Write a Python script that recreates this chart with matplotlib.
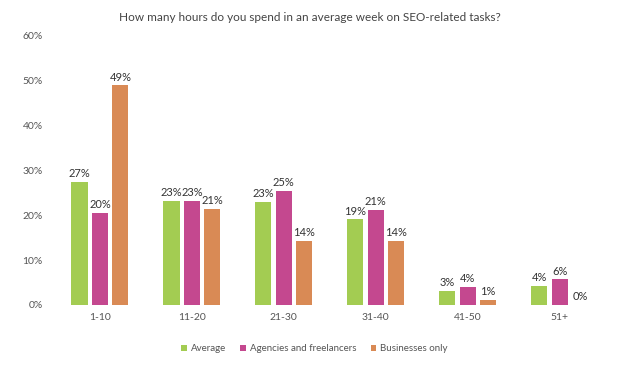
import matplotlib
matplotlib.use("Agg")
import matplotlib.pyplot as plt
import numpy as np

categories = ["1-10", "11-20", "21-30", "31-40", "41-50", "51+"]
series_names = ["Average", "Agencies and freelancers", "Businesses only"]
average = [27.5, 23.2, 23.0, 19.1, 3.1, 4.2]
agencies = [20.5, 23.3, 25.4, 21.2, 4.1, 5.7]
businesses = [49.0, 21.4, 14.3, 14.3, 1.1, 0.0]
average_labels = ["27%", "23%", "23%", "19%", "3%", "4%"]
agencies_labels = ["20%", "23%", "25%", "21%", "4%", "6%"]
businesses_labels = ["49%", "21%", "14%", "14%", "1%", "0%"]
yticks = [0, 10, 20, 30, 40, 50, 60]
ytick_labels = ["0%", "10%", "20%", "30%", "40%", "50%", "60%"]
title = "How many hours do you spend in an average week on SEO-related tasks?"

colors = ["#a3cc52", "#c4488f", "#d98a55"]
font = ["Lato", "DejaVu Sans"]
plt.rcParams["font.family"] = font

fig = plt.figure(figsize=(6.2, 3.67), dpi=100)
ax = fig.add_axes([0.087, 0.169, 0.89, 0.733])

x = np.arange(len(categories))
width = 0.175
offsets = [-0.222, 0.0, 0.222]
data = [average, agencies, businesses]
labels = [average_labels, agencies_labels, businesses_labels]
for vals, labs, off, c, name in zip(data, labels, offsets, colors, series_names):
    bars = ax.bar(x + off, vals, width, color=c, label=name)
    for b, v, l in zip(bars, vals, labs):
        ax.text(b.get_x() + b.get_width() / 2, v + 0.6, l, ha="center", va="bottom",
                fontsize=8, color="#333333")

ax.set_xlim(-0.5, len(categories) - 0.5)
ax.set_ylim(0, 60)
ax.set_yticks(yticks)
ax.set_yticklabels(ytick_labels)
ax.set_xticks(x)
ax.set_xticklabels(categories)
ax.tick_params(axis="both", length=0, labelsize=7.5, colors="#555555")
ax.tick_params(axis="y", pad=8)
ax.tick_params(axis="x", pad=6)
for s in ax.spines.values():
    s.set_visible(False)

fig.text(0.5, 0.952, title, ha="center", va="center", fontsize=8.5, color="#444444")

leg = fig.legend(loc="center", bbox_to_anchor=(0.507, 0.05), ncol=3, frameon=False,
                 fontsize=7, handlelength=0.55, handleheight=0.55, handletextpad=0.4,
                 columnspacing=1.5)
for t in leg.get_texts():
    t.set_color("#555555")

fig.savefig("out.png", dpi=100, facecolor="white")
